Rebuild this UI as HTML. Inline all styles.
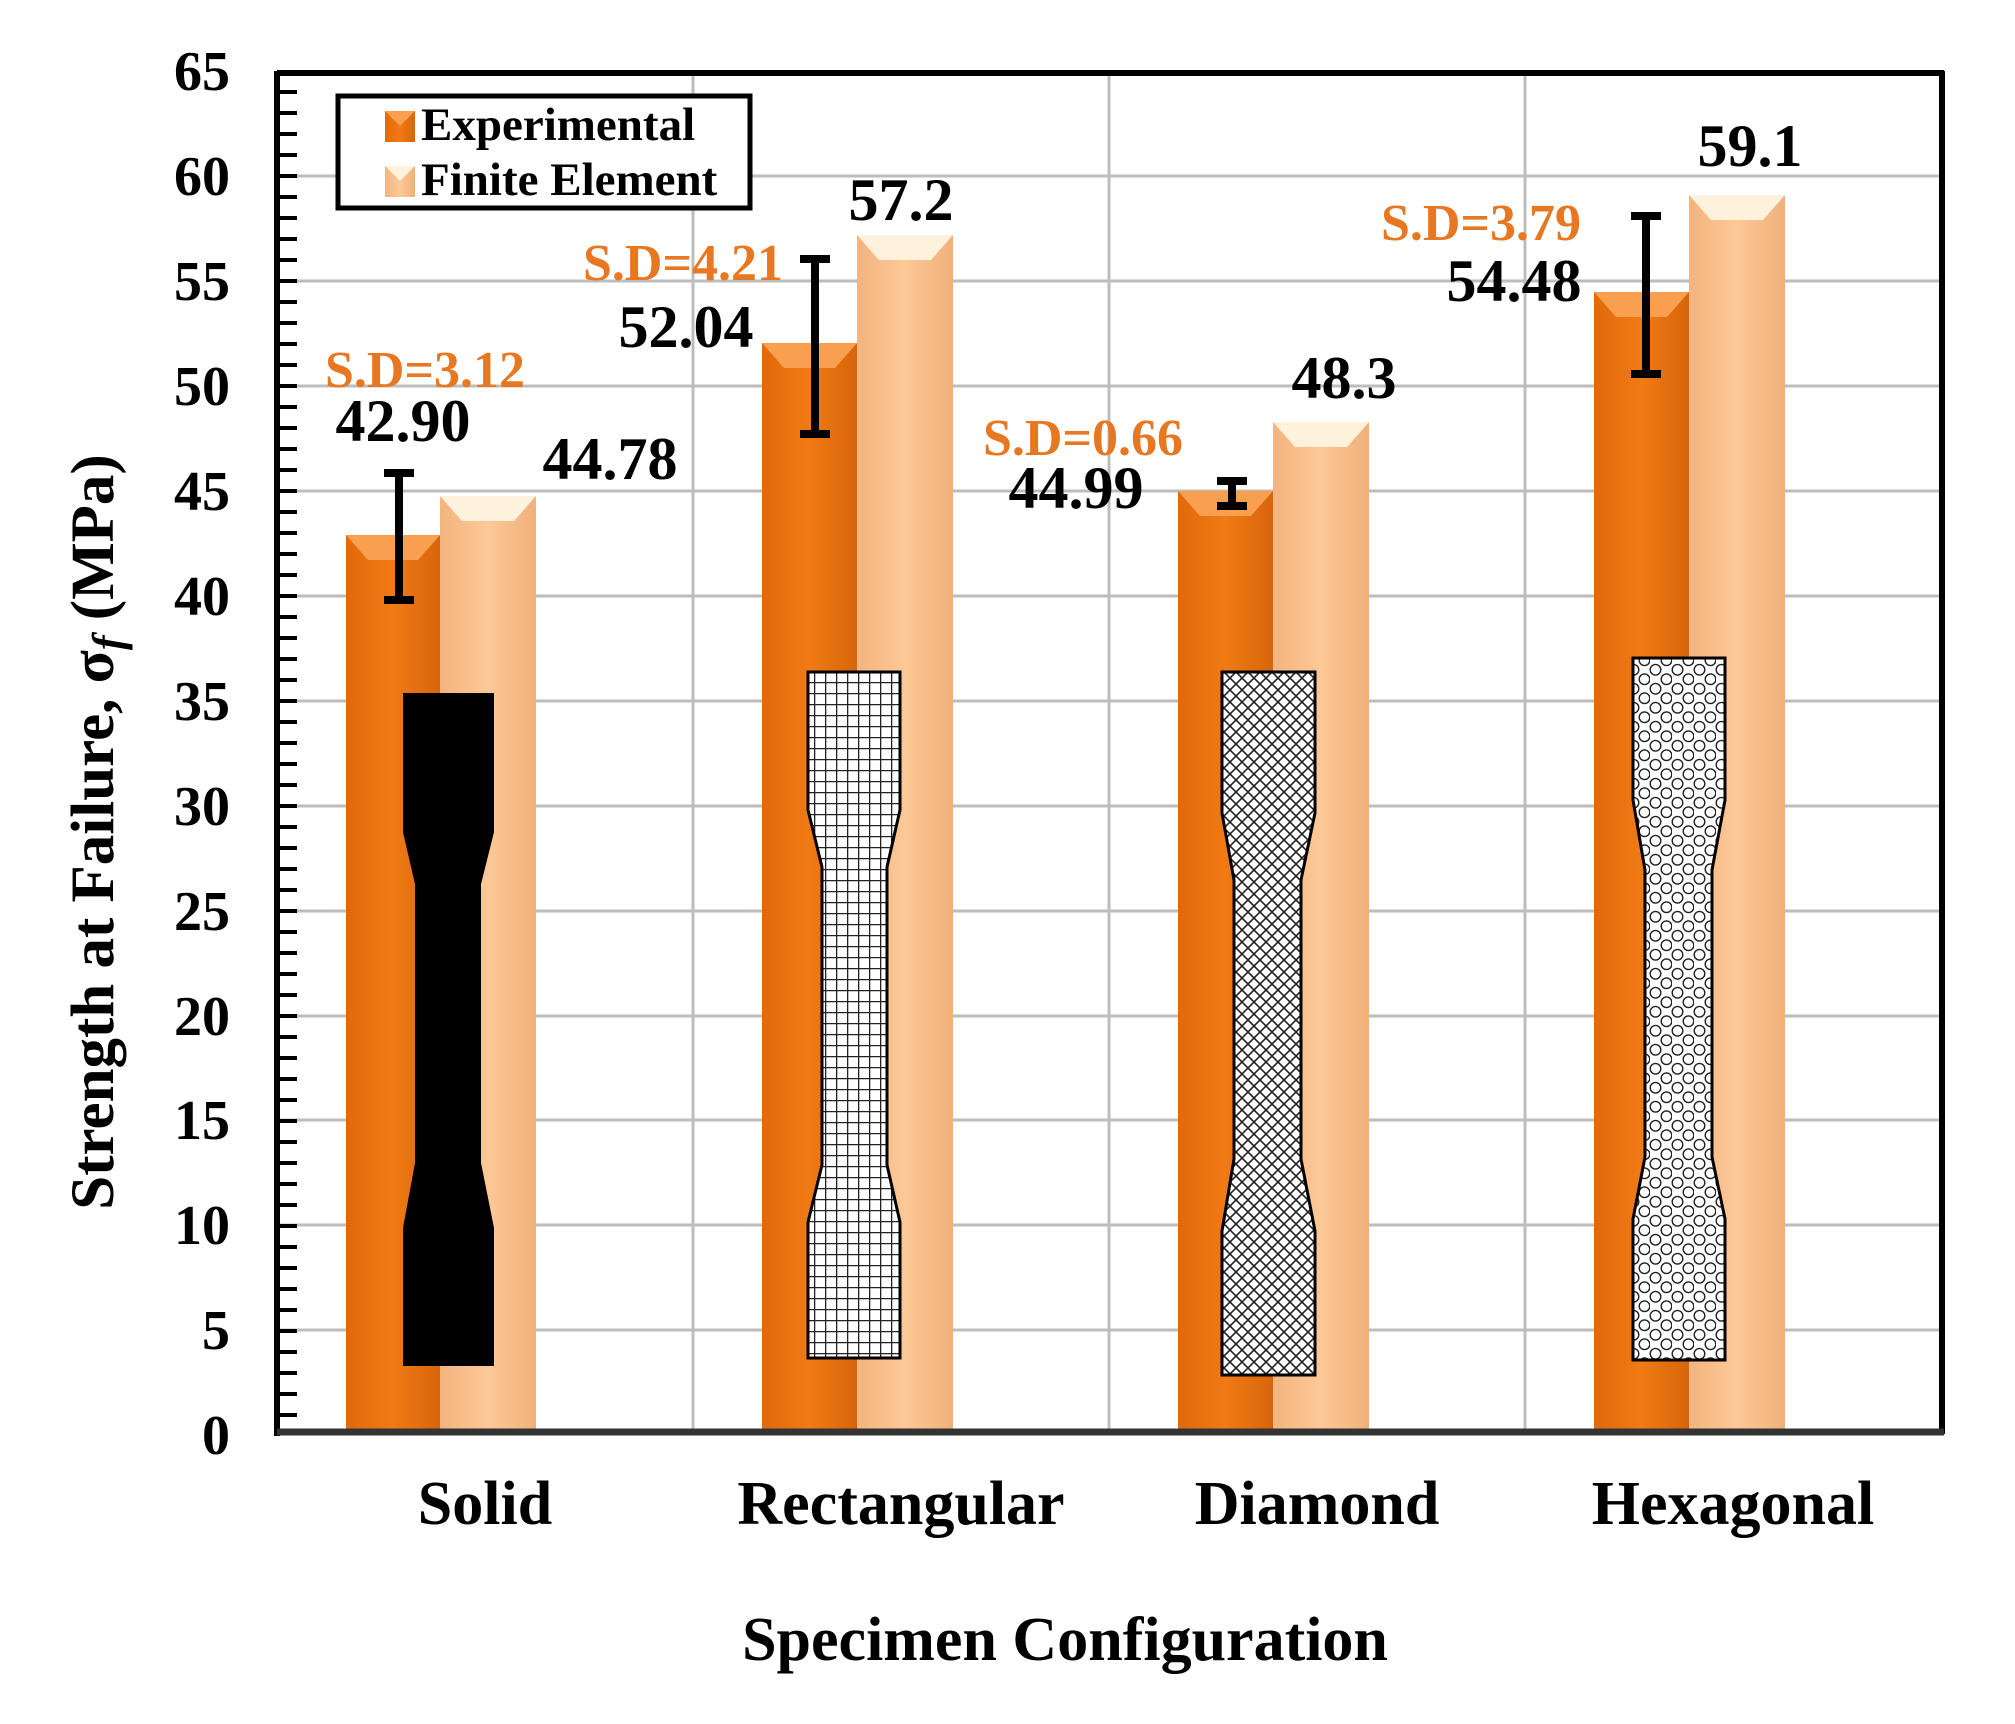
<!DOCTYPE html>
<html><head><meta charset="utf-8"><style>
html,body{margin:0;padding:0;background:#fff}
svg{display:block}
text{font-family:"Liberation Serif",serif;font-weight:bold}
</style></head><body>
<svg width="2015" height="1724" viewBox="0 0 2015 1724" xmlns="http://www.w3.org/2000/svg">
<defs>
<linearGradient id="ge" x1="0" x2="1" y1="0" y2="0">
<stop offset="0" stop-color="#e06a0c"/><stop offset="0.5" stop-color="#f07a14"/><stop offset="1" stop-color="#d8650c"/></linearGradient>
<linearGradient id="gf" x1="0" x2="1" y1="0" y2="0">
<stop offset="0" stop-color="#f3b47e"/><stop offset="0.5" stop-color="#fdc898"/><stop offset="1" stop-color="#f0b07a"/></linearGradient>
<pattern id="pgrid" width="11" height="11" patternUnits="userSpaceOnUse">
<rect width="11" height="11" fill="#fff"/><path d="M0 0.5H11M0.5 0V11" stroke="#222" stroke-width="1.6"/></pattern>
<pattern id="pdia" width="12" height="12" patternUnits="userSpaceOnUse">
<rect width="12" height="12" fill="#fff"/><path d="M0 0L12 12M12 0L0 12" stroke="#222" stroke-width="1.6"/></pattern>
<pattern id="phex" width="22" height="19" patternUnits="userSpaceOnUse">
<rect width="22" height="19" fill="#fff"/>
<circle cx="5.5" cy="4.75" r="5.3" fill="none" stroke="#222" stroke-width="1.4"/>
<circle cx="16.5" cy="14.25" r="5.3" fill="none" stroke="#222" stroke-width="1.4"/>
<circle cx="16.5" cy="-4.75" r="5.3" fill="none" stroke="#222" stroke-width="1.4"/>
<circle cx="5.5" cy="23.75" r="5.3" fill="none" stroke="#222" stroke-width="1.4"/>
<circle cx="27.5" cy="4.75" r="5.3" fill="none" stroke="#222" stroke-width="1.4"/>
<circle cx="27.5" cy="23.75" r="5.3" fill="none" stroke="#222" stroke-width="1.4"/>
</pattern>
</defs>
<!-- grid -->
<g stroke="#bdbdbd" stroke-width="3">
<line x1="277" x2="1942" y1="1330" y2="1330"/><line x1="277" x2="1942" y1="1225" y2="1225"/>
<line x1="277" x2="1942" y1="1120" y2="1120"/><line x1="277" x2="1942" y1="1016" y2="1016"/>
<line x1="277" x2="1942" y1="911" y2="911"/><line x1="277" x2="1942" y1="806" y2="806"/>
<line x1="277" x2="1942" y1="701" y2="701"/><line x1="277" x2="1942" y1="596" y2="596"/>
<line x1="277" x2="1942" y1="491" y2="491"/><line x1="277" x2="1942" y1="386" y2="386"/>
<line x1="277" x2="1942" y1="281" y2="281"/><line x1="277" x2="1942" y1="176" y2="176"/>
<line x1="693" x2="693" y1="71" y2="1432"/><line x1="1109" x2="1109" y1="71" y2="1432"/><line x1="1525" x2="1525" y1="71" y2="1432"/>
</g>
<!-- bars -->
<g>
<rect x="346" y="535" width="94" height="899" fill="url(#ge)"/><path d="M346 535H440L418 560H368Z" fill="#f8a050"/>
<rect x="440" y="496" width="96" height="938" fill="url(#gf)"/><path d="M440 496H536L514 521H462Z" fill="#fff2dc"/>
<rect x="762" y="343" width="95" height="1091" fill="url(#ge)"/><path d="M762 343H857L835 368H784Z" fill="#f8a050"/>
<rect x="857" y="235" width="96" height="1199" fill="url(#gf)"/><path d="M857 235H953L931 260H879Z" fill="#fff2dc"/>
<rect x="1178" y="491" width="95" height="943" fill="url(#ge)"/><path d="M1178 491H1273L1251 516H1200Z" fill="#f8a050"/>
<rect x="1273" y="422" width="96" height="1012" fill="url(#gf)"/><path d="M1273 422H1369L1347 447H1295Z" fill="#fff2dc"/>
<rect x="1594" y="292" width="95" height="1142" fill="url(#ge)"/><path d="M1594 292H1689L1667 317H1616Z" fill="#f8a050"/>
<rect x="1689" y="195" width="96" height="1239" fill="url(#gf)"/><path d="M1689 195H1785L1763 220H1711Z" fill="#fff2dc"/>
</g>
<!-- specimens -->
<path d="M404 694H493V832L480 884V1163L493 1228V1365H404V1228L416 1163V884L404 832Z" fill="#000" stroke="#000" stroke-width="2"/>
<path d="M808 672H900V810L887 867V1165L900 1222V1358H808V1222L822 1165V867L808 810Z" fill="url(#pgrid)" stroke="#000" stroke-width="3"/>
<path d="M1222 672H1315V813L1301 880V1159L1315 1231V1375H1222V1231L1234 1159V880L1222 813Z" fill="url(#pdia)" stroke="#000" stroke-width="3"/>
<path d="M1633 658H1725V800L1712 870V1157L1725 1219V1360H1633V1219L1645 1157V870L1633 800Z" fill="url(#phex)" stroke="#000" stroke-width="3"/>
<!-- error bars -->
<g stroke="#000" fill="none">
<line x1="399" x2="399" y1="470" y2="600" stroke-width="8"/><line x1="384" x2="414" y1="473" y2="473" stroke-width="8"/><line x1="384" x2="414" y1="600" y2="600" stroke-width="8"/>
<line x1="815" x2="815" y1="256" y2="436" stroke-width="8"/><line x1="800" x2="830" y1="259" y2="259" stroke-width="8"/><line x1="800" x2="830" y1="434" y2="434" stroke-width="8"/>
<line x1="1232" x2="1232" y1="478" y2="508" stroke-width="8"/><line x1="1217" x2="1247" y1="481" y2="481" stroke-width="8"/><line x1="1217" x2="1247" y1="506" y2="506" stroke-width="8"/>
<line x1="1646" x2="1646" y1="213" y2="376" stroke-width="8"/><line x1="1631" x2="1661" y1="216" y2="216" stroke-width="8"/><line x1="1631" x2="1661" y1="374" y2="374" stroke-width="8"/>
</g>
<!-- frame -->
<line x1="277" x2="1944" y1="73" y2="73" stroke="#000" stroke-width="6"/>
<line x1="1942" x2="1942" y1="71" y2="1434" stroke="#000" stroke-width="6"/>
<line x1="277" x2="277" y1="71" y2="1436" stroke="#000" stroke-width="6"/>
<line x1="277" x2="1944" y1="1432" y2="1432" stroke="#333" stroke-width="7"/>
<g stroke="#000" stroke-width="4">
<path d="M277 92H297M277 113H297M277 134H297M277 155H297M277 176H297M277 197H297M277 218H297M277 239H297M277 260H297M277 281H297M277 302H297M277 323H297M277 344H297M277 365H297M277 386H297M277 407H297M277 428H297M277 449H297M277 470H297M277 491H297M277 512H297M277 533H297M277 554H297M277 575H297M277 596H297M277 617H297M277 638H297M277 659H297M277 680H297M277 701H297M277 722H297M277 743H297M277 764H297M277 785H297M277 806H297M277 827H297M277 848H297M277 869H297M277 890H297M277 911H297M277 932H297M277 953H297M277 974H297M277 995H297M277 1016H297M277 1037H297M277 1058H297M277 1079H297M277 1100H297M277 1121H297M277 1142H297M277 1163H297M277 1184H297M277 1205H297M277 1226H297M277 1247H297M277 1268H297M277 1289H297M277 1310H297M277 1331H297M277 1352H297M277 1373H297M277 1394H297M277 1415H297"/>
</g>
<!-- y tick labels -->
<g font-size="56" text-anchor="end" fill="#000">
<text x="230" y="90">65</text><text x="230" y="195">60</text><text x="230" y="300">55</text><text x="230" y="405">50</text>
<text x="230" y="510">45</text><text x="230" y="615">40</text><text x="230" y="720">35</text><text x="230" y="825">30</text>
<text x="230" y="930">25</text><text x="230" y="1035">20</text><text x="230" y="1139">15</text><text x="230" y="1244">10</text>
<text x="230" y="1349">5</text><text x="230" y="1454">0</text>
</g>
<!-- axis titles -->
<text transform="translate(113,832) rotate(-90)" font-size="61" text-anchor="middle">Strength at Failure, σ<tspan font-style="italic" font-size="44" dy="10">f</tspan><tspan dy="-10"> (MPa)</tspan></text>
<g font-size="62" text-anchor="middle">
<text x="485" y="1524">Solid</text><text x="901" y="1524">Rectangular</text><text x="1317" y="1524">Diamond</text><text x="1733" y="1524">Hexagonal</text>
<text x="1065" y="1660">Specimen Configuration</text>
</g>
<!-- legend -->
<rect x="338" y="96" width="412" height="112" fill="#fff" stroke="#000" stroke-width="5"/>
<rect x="385" y="111" width="30" height="31" fill="url(#ge)"/><path d="M385 111H415L400 126Z" fill="#f8a050"/>
<rect x="385" y="166" width="30" height="31" fill="url(#gf)"/><path d="M385 166H415L400 181Z" fill="#fff2dc"/>
<text x="421" y="140" font-size="47">Experimental</text>
<text x="421" y="195" font-size="47">Finite Element</text>
<!-- data labels -->
<g font-size="60" fill="#000" text-anchor="middle">
<text x="403" y="441">42.90</text><text x="610" y="479">44.78</text>
<text x="686" y="347">52.04</text><text x="901" y="220">57.2</text>
<text x="1076" y="508">44.99</text><text x="1344" y="398">48.3</text>
<text x="1514" y="301">54.48</text><text x="1750" y="166">59.1</text>
</g>
<g font-size="52" fill="#e87722" text-anchor="middle">
<text x="425" y="387">S.D=3.12</text><text x="683" y="280">S.D=4.21</text>
<text x="1083" y="455">S.D=0.66</text><text x="1481" y="240">S.D=3.79</text>
</g>
</svg>
</body></html>
